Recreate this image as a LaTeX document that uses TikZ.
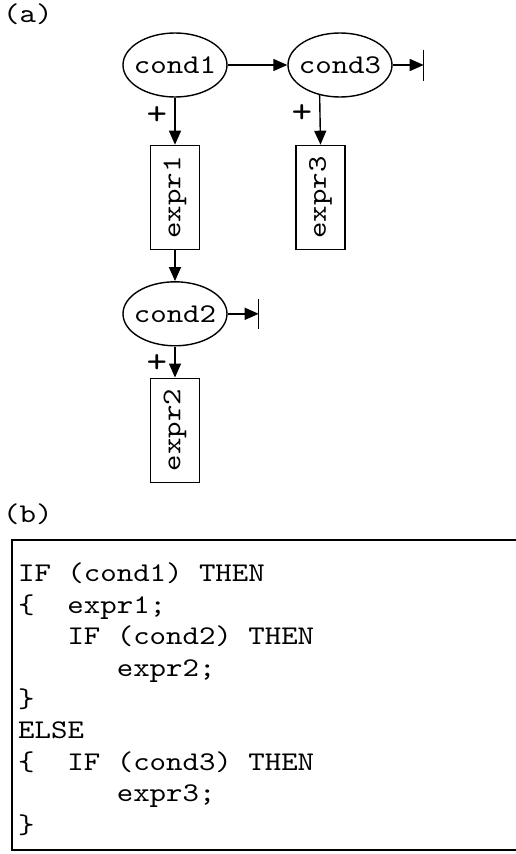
\documentclass[tikz,border=0pt]{standalone}
\usepackage{fontspec}
\setmainfont[FakeStretch=1.16]{lmmono10-regular.otf}
\usetikzlibrary{arrows.meta,positioning,shapes.geometric}

\tikzset{
  cond/.style={ellipse, draw, line width=1.4pt, minimum width=104pt,
    minimum height=64pt, inner sep=0pt, inner xsep=-6pt},
  expr/.style={rectangle, draw, line width=1.4pt, minimum width=49pt,
    minimum height=104pt, inner sep=0pt},
  flow/.style={-{Triangle[length=14pt,width=12pt]}, line width=1.4pt},
  stopbar/.style={line width=1.4pt},
  plus/.style={anchor=east, inner sep=0pt, xshift=-7pt},
  partlbl/.style={anchor=base west, inner sep=0pt},
}

\begin{document}
\begin{tikzpicture}[x=1pt, y=-1pt, font=\fontsize{27}{31.4}\selectfont]
\useasboundingbox (0,0) rectangle (515,854);

% (a) flow graph
\node[partlbl] (lbla) at (3,22) {(a)};

\node[cond] (cond1) at (175,65) {cond1};
\node[cond] (cond3) at (340,65) {cond3};
\node[expr, below=47pt of cond1] (expr1) {\rotatebox{90}{expr1}};
\node[cond, below=31pt of expr1] (cond2) {cond2};
\node[expr, below=31pt of cond2] (expr2) {\rotatebox{90}{expr2}};
\node[expr, below=47pt of cond3, xshift=-19.5pt] (expr3) {\rotatebox{90}{expr3}};

\coordinate[right=31pt of cond3] (stop3);
\coordinate[right=31pt of cond2] (stop2);

\draw[flow] (cond1) -- (cond3);
\draw[flow] (cond3) -- (stop3);
\draw[stopbar] (stop3) ++(0,-15.5) -- ++(0,31);
\draw[flow] (cond1) -- node[plus, pos=0.39] (plus1) {\scalebox{1.25}{+}} (expr1);
\draw[flow] (cond3.236) -- node[plus, pos=0.38] (plus3) {\scalebox{1.25}{+}} (expr3.north);
\draw[flow] (expr1) -- (cond2);
\draw[flow] (cond2) -- node[plus, pos=0.55] (plus2) {\scalebox{1.25}{+}} (expr2);
\draw[flow] (cond2) -- (stop2);
\draw[stopbar] (stop2) ++(0,-15) -- ++(0,30);

% (b) the same as code
\node[partlbl] (lblb) at (3,522) {(b)};
\draw[line width=1.4pt] (12,540) rectangle (517,850);
% base of a multi-line node sits on its last line
\node[anchor=base west, align=left, inner sep=0pt] (code) at (18,833) {%
IF (cond1) THEN\\
\{\phantom{xx}expr1;\\
\phantom{xxx}IF (cond2) THEN\\
\phantom{xxxxxx}expr2;\\
\}\\
ELSE\\
\{\phantom{xx}IF (cond3) THEN\\
\phantom{xxxxxx}expr3;\\
\}};

\end{tikzpicture}
\end{document}
